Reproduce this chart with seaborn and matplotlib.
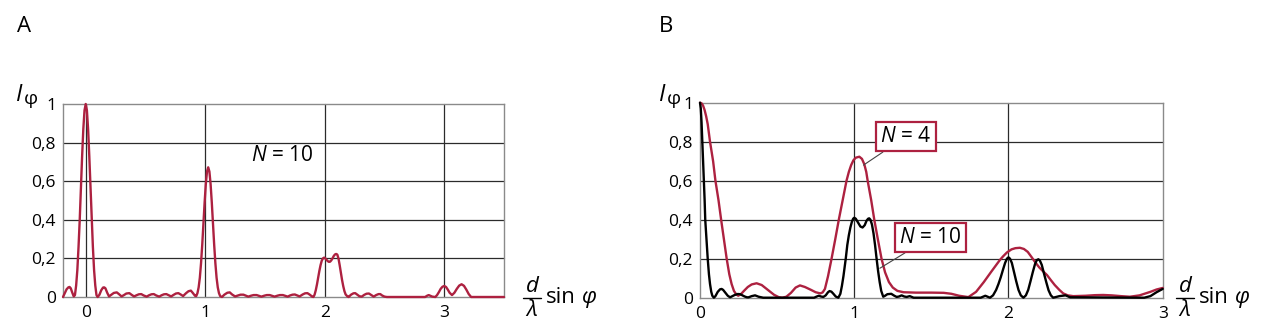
import matplotlib
matplotlib.use("Agg")
import matplotlib.pyplot as plt
from matplotlib.lines import Line2D
import seaborn as sns
import pandas as pd

# Panel A: grating intensity, N = 10
a_x = [-0.19, -0.175, -0.16, -0.145, -0.135, -0.125, -0.112, -0.10,
       -0.09, -0.08, -0.07, -0.06, -0.05, -0.04, -0.03, -0.02, -0.01, 0.0,
       0.01, 0.02, 0.03, 0.04, 0.05, 0.06, 0.07, 0.08, 0.09, 0.10,
       0.115, 0.13, 0.145, 0.155, 0.165, 0.18, 0.195,
       0.215, 0.235, 0.26, 0.28, 0.30,
       0.32, 0.34, 0.365, 0.385, 0.405,
       0.425, 0.445, 0.465, 0.485, 0.51,
       0.53, 0.55, 0.57, 0.59, 0.615,
       0.635, 0.655, 0.675, 0.695, 0.715,
       0.735, 0.755, 0.775, 0.795, 0.815,
       0.84, 0.86, 0.88, 0.895, 0.915,
       0.925, 0.935, 0.945, 0.955, 0.965, 0.975, 0.985, 0.995, 1.005, 1.015, 1.025,
       1.035, 1.045, 1.055, 1.065, 1.075, 1.085, 1.095, 1.105, 1.115, 1.125, 1.14,
       1.16, 1.185, 1.205, 1.225, 1.25,
       1.275, 1.295, 1.32, 1.34, 1.36,
       1.385, 1.405, 1.43, 1.45, 1.47,
       1.495, 1.515, 1.54, 1.56, 1.58,
       1.605, 1.625, 1.65, 1.67, 1.69,
       1.71, 1.73, 1.75, 1.77, 1.79,
       1.815, 1.835, 1.855, 1.875, 1.895,
       1.905, 1.915, 1.925, 1.935, 1.945, 1.955, 1.965, 1.975, 1.985, 1.995, 2.005,
       2.015, 2.025, 2.035, 2.045, 2.055, 2.065, 2.075, 2.085, 2.095, 2.105, 2.115,
       2.125, 2.135, 2.145, 2.155, 2.165, 2.175, 2.19, 2.20,
       2.22, 2.24, 2.255, 2.27, 2.29, 2.31,
       2.33, 2.35, 2.37, 2.39, 2.41,
       2.43, 2.45, 2.465, 2.48, 2.50, 2.52,
       2.84, 2.855, 2.87, 2.885, 2.90, 2.925,
       2.94, 2.955, 2.97, 2.985, 3.0, 3.015, 3.03, 3.045, 3.065,
       3.085, 3.105, 3.125, 3.145, 3.165, 3.185, 3.205, 3.225, 3.5]
a_y = [0.0, 0.02, 0.04, 0.05, 0.052, 0.045, 0.022, 0.003,
       0.01, 0.06, 0.14, 0.26, 0.40, 0.57, 0.73, 0.87, 0.967, 1.0,
       0.967, 0.87, 0.73, 0.57, 0.40, 0.26, 0.14, 0.06, 0.01, 0.0,
       0.012, 0.035, 0.049, 0.05, 0.045, 0.022, 0.003,
       0.012, 0.021, 0.024, 0.014, 0.003,
       0.01, 0.018, 0.02, 0.011, 0.003,
       0.009, 0.014, 0.015, 0.008, 0.002,
       0.009, 0.014, 0.015, 0.008, 0.002,
       0.009, 0.014, 0.015, 0.009, 0.003,
       0.011, 0.018, 0.02, 0.013, 0.005,
       0.02, 0.03, 0.033, 0.022, 0.006,
       0.005, 0.02, 0.05, 0.10, 0.175, 0.27, 0.38, 0.49, 0.585, 0.65, 0.672,
       0.65, 0.585, 0.49, 0.38, 0.27, 0.175, 0.10, 0.05, 0.02, 0.005, 0.0,
       0.012, 0.022, 0.024, 0.013, 0.003,
       0.008, 0.012, 0.012, 0.007, 0.002,
       0.007, 0.01, 0.01, 0.006, 0.002,
       0.007, 0.01, 0.01, 0.006, 0.002,
       0.007, 0.01, 0.01, 0.006, 0.002,
       0.008, 0.012, 0.013, 0.008, 0.003,
       0.013, 0.019, 0.02, 0.012, 0.002,
       0.0, 0.012, 0.035, 0.065, 0.10, 0.135, 0.165, 0.188, 0.20, 0.204, 0.20,
       0.193, 0.186, 0.182, 0.183, 0.19, 0.20, 0.212, 0.22, 0.223, 0.22, 0.20,
       0.165, 0.125, 0.088, 0.056, 0.03, 0.013, 0.003, 0.0,
       0.012, 0.019, 0.02, 0.013, 0.004, 0.002,
       0.011, 0.017, 0.018, 0.01, 0.002,
       0.01, 0.015, 0.015, 0.008, 0.002, 0.0,
       0.0, 0.006, 0.01, 0.006, 0.002, 0.0,
       0.01, 0.025, 0.042, 0.053, 0.057, 0.052, 0.038, 0.022, 0.01,
       0.022, 0.042, 0.059, 0.066, 0.058, 0.038, 0.015, 0.0, 0.0]

# Panel B: N = 4
b4_x = [0.0, 0.01, 0.02, 0.03, 0.04, 0.05, 0.065, 0.085, 0.10, 0.12, 0.137, 0.155, 0.173,
        0.19, 0.205, 0.22, 0.235, 0.248,
        0.265, 0.285, 0.31, 0.335, 0.367, 0.40, 0.44, 0.48, 0.51, 0.533, 0.56, 0.59, 0.62,
        0.648, 0.68, 0.72, 0.75, 0.78, 0.795, 0.81, 0.83, 0.853, 0.877, 0.90, 0.925, 0.95,
        0.965, 0.98, 0.995, 1.01, 1.033, 1.05, 1.065, 1.078, 1.087, 1.11, 1.13, 1.153, 1.177,
        1.20, 1.225, 1.25, 1.28, 1.32, 1.40, 1.50, 1.58, 1.63, 1.68, 1.74, 1.79, 1.84, 1.89,
        1.944, 1.965, 1.99, 2.02, 2.045, 2.074, 2.10, 2.125, 2.15, 2.175, 2.20, 2.225, 2.25,
        2.275, 2.30, 2.33, 2.355, 2.385, 2.42, 2.50, 2.56, 2.614, 2.67, 2.73, 2.787, 2.85,
        2.92, 2.96, 3.0]
b4_y = [1.0, 0.997, 0.985, 0.962, 0.93, 0.89, 0.80, 0.70, 0.60, 0.50, 0.40, 0.30, 0.20,
        0.12, 0.07, 0.035, 0.017, 0.01,
        0.018, 0.035, 0.055, 0.068, 0.074, 0.065, 0.04, 0.015, 0.003, 0.0, 0.005, 0.025, 0.052,
        0.063, 0.055, 0.04, 0.028, 0.022, 0.027, 0.045, 0.11, 0.20, 0.30, 0.40, 0.50, 0.60,
        0.645, 0.68, 0.705, 0.718, 0.723, 0.712, 0.685, 0.645, 0.60, 0.50, 0.40, 0.30, 0.20,
        0.13, 0.08, 0.052, 0.035, 0.028, 0.026, 0.026, 0.025, 0.02, 0.01, 0.003, 0.03, 0.08, 0.135,
        0.193, 0.212, 0.232, 0.248, 0.254, 0.256, 0.25, 0.235, 0.208, 0.18, 0.155, 0.135, 0.116,
        0.09, 0.065, 0.04, 0.022, 0.012, 0.008, 0.01, 0.013, 0.014, 0.012, 0.008, 0.005, 0.012,
        0.03, 0.042, 0.05]

# Panel B: N = 10
b10_x = [0.0, 0.005, 0.01, 0.015, 0.02, 0.025, 0.03, 0.034, 0.042, 0.05, 0.058, 0.065, 0.073,
         0.08, 0.09, 0.1, 0.115, 0.13, 0.14, 0.15, 0.165, 0.18, 0.195,
         0.21, 0.225, 0.245, 0.26, 0.275, 0.29, 0.305, 0.315, 0.335, 0.357, 0.38, 0.41,
         0.74, 0.757, 0.77, 0.785, 0.80, 0.815, 0.83, 0.84, 0.852, 0.865, 0.88,
         0.897, 0.91, 0.92, 0.93, 0.945, 0.955, 0.965, 0.975, 0.985, 0.993, 1.0, 1.01, 1.025,
         1.04, 1.054, 1.068, 1.08, 1.09, 1.097, 1.105, 1.115, 1.125, 1.135, 1.145, 1.155, 1.165,
         1.175, 1.188, 1.2, 1.215, 1.24, 1.26, 1.275, 1.29, 1.307, 1.325, 1.34, 1.36, 1.385,
         1.82, 1.85, 1.88, 1.90, 1.92, 1.935, 1.95, 1.965, 1.978, 1.99, 2.0, 2.01, 2.022, 2.035,
         2.05, 2.065, 2.08, 2.097, 2.113, 2.128, 2.143, 2.158, 2.172, 2.184, 2.194, 2.204, 2.216,
         2.23, 2.245, 2.26, 2.275, 2.29, 2.33, 2.37, 2.40, 2.88, 2.92, 2.96, 3.0]
b10_y = [1.0, 0.97, 0.90, 0.80, 0.70, 0.60, 0.50, 0.40, 0.30, 0.20, 0.12, 0.07, 0.03,
         0.01, 0.0, 0.008, 0.03, 0.043, 0.045, 0.04, 0.025, 0.01, 0.002,
         0.008, 0.014, 0.019, 0.018, 0.012, 0.006, 0.002, 0.002, 0.008, 0.012, 0.005, 0.0,
         0.0, 0.006, 0.01, 0.006, 0.004, 0.012, 0.028, 0.034, 0.031, 0.02, 0.006,
         0.0, 0.02, 0.06, 0.11, 0.20, 0.27, 0.32, 0.36, 0.39, 0.405, 0.41, 0.405, 0.385,
         0.365, 0.36, 0.372, 0.395, 0.405, 0.407, 0.40, 0.375, 0.33, 0.27, 0.20, 0.135, 0.08,
         0.035, 0.005, 0.01, 0.018, 0.02, 0.01, 0.004, 0.006, 0.012, 0.006, 0.004, 0.008, 0.0,
         0.0, 0.01, 0.0, 0.012, 0.04, 0.07, 0.105, 0.145, 0.178, 0.20, 0.207, 0.20, 0.178, 0.135,
         0.085, 0.04, 0.012, 0.0, 0.012, 0.04, 0.085, 0.132, 0.172, 0.193, 0.197, 0.19, 0.168,
         0.125, 0.08, 0.038, 0.012, 0.0, 0.008, 0.012, 0.002, 0.0, 0.008, 0.028, 0.045]

y_ticks = [0, 0.2, 0.4, 0.6, 0.8, 1.0]
y_labels = ["0", "0,2", "0,4", "0,6", "0,8", "1"]
a_xticks = [0, 1, 2, 3]
b_xticks = [0, 1, 2, 3]

RED = "#ad2140"
GRID = "#2b2b2b"
FRAME = "#8a8a8a"
FONT = "Open Sans"

sns.set_theme(style="white")
plt.rcParams["font.family"] = [FONT, "DejaVu Sans"]
plt.rcParams["text.color"] = "black"
plt.rcParams["mathtext.fontset"] = "custom"
plt.rcParams["mathtext.rm"] = FONT
plt.rcParams["mathtext.it"] = FONT + ":italic"

W, H = 1280, 334
fig = plt.figure(figsize=(W / 100, H / 100), dpi=100)


def fx(px):
    return px / W


def fy(py):
    return 1 - py / H


def style_axes(ax, xlim, xticks):
    ax.set_xlim(*xlim)
    ax.set_ylim(0, 1)
    ax.set_yticks(y_ticks)
    ax.set_yticklabels(y_labels)
    ax.set_xticks(xticks)
    ax.set_xticklabels([str(t) for t in xticks])
    ax.tick_params(length=0, labelsize=12.5, colors="black")
    ax.tick_params(axis="y", pad=5)
    ax.tick_params(axis="x", pad=6)
    for t in xticks:
        if xlim[0] < t < xlim[1]:
            ax.axvline(t, color=GRID, lw=0.9, zorder=1)
    for v in y_ticks[1:-1]:
        ax.axhline(v, color=GRID, lw=0.9, zorder=1)
    for s in ax.spines.values():
        s.set_color(FRAME)
        s.set_linewidth(1.0)
        s.set_visible(True)
    ax.set_xlabel("")
    ax.set_ylabel("")


# Panel A
axA = fig.add_axes([fx(63), fy(297), fx(504) - fx(63), fy(104) - fy(297)])
dfA = pd.DataFrame({"x": a_x, "y": a_y})
sns.lineplot(data=dfA, x="x", y="y", ax=axA, color=RED, lw=1.7, sort=False,
             estimator=None, zorder=3)
style_axes(axA, (-0.19, 3.5), a_xticks)
axA.text(1.64, 0.735, "$\\it{N}$ = 10", fontsize=15, ha="center", va="center")

# Panel B
axB = fig.add_axes([fx(700), fy(297.7), fx(1162.7) - fx(700), fy(102.7) - fy(297.7)])
dfB = pd.DataFrame({
    "x": b4_x + b10_x,
    "y": b4_y + b10_y,
    "N": ["N = 4"] * len(b4_x) + ["N = 10"] * len(b10_x),
})
sns.lineplot(data=dfB, x="x", y="y", hue="N", palette={"N = 4": RED, "N = 10": "black"},
             ax=axB, lw=1.7, sort=False, estimator=None, legend=False, zorder=3)
style_axes(axB, (0, 3), b_xticks)

for line in axA.lines + axB.lines:
    line.set_clip_on(False)

box = dict(boxstyle="square,pad=0.2", fc="white", ec=RED, lw=1.6)
axB.annotate("$\\it{N}$ = 4", xy=(1.06, 0.68), xytext=(1.335, 0.826),
             fontsize=15, ha="center", va="center", bbox=box,
             arrowprops=dict(arrowstyle="-", color="#444444", lw=0.8,
                             shrinkA=0, shrinkB=0), zorder=5)
axB.annotate("$\\it{N}$ = 10", xy=(1.166, 0.151), xytext=(1.493, 0.309),
             fontsize=15, ha="center", va="center", bbox=box,
             arrowprops=dict(arrowstyle="-", color="#444444", lw=0.8,
                             shrinkA=0, shrinkB=0), zorder=5)

# Panel letters
fig.text(fx(17), fy(27), "A", fontsize=16, ha="left", va="center")
fig.text(fx(659), fy(27), "B", fontsize=16, ha="left", va="center")

# Y-axis quantity I_phi
for x0 in (16, 659):
    fig.text(fx(x0), fy(101), "I", fontsize=17, style="italic", ha="left", va="baseline")
    fig.text(fx(x0 + 8), fy(104), "\u03c6", fontsize=14, ha="left", va="baseline")

# X-axis quantity (d / lambda) sin phi
for xc, xs in ((532, 546), (1185, 1199)):
    fig.text(fx(xc), fy(292), "d", fontsize=16, style="italic", ha="center", va="baseline")
    fig.add_artist(Line2D([fx(xc - 9), fx(xc + 9)], [fy(298), fy(298)],
                          color="black", lw=1.0, transform=fig.transFigure))
    fig.text(fx(xc), fy(316), "\u03bb", fontsize=16, style="italic", ha="center", va="baseline")
    fig.text(fx(xs), fy(303), "sin", fontsize=16, ha="left", va="baseline")
    fig.text(fx(xs + 36), fy(303), "\u03c6", fontsize=16, style="italic", ha="left", va="baseline")

fig.savefig("out.png", dpi=100)
